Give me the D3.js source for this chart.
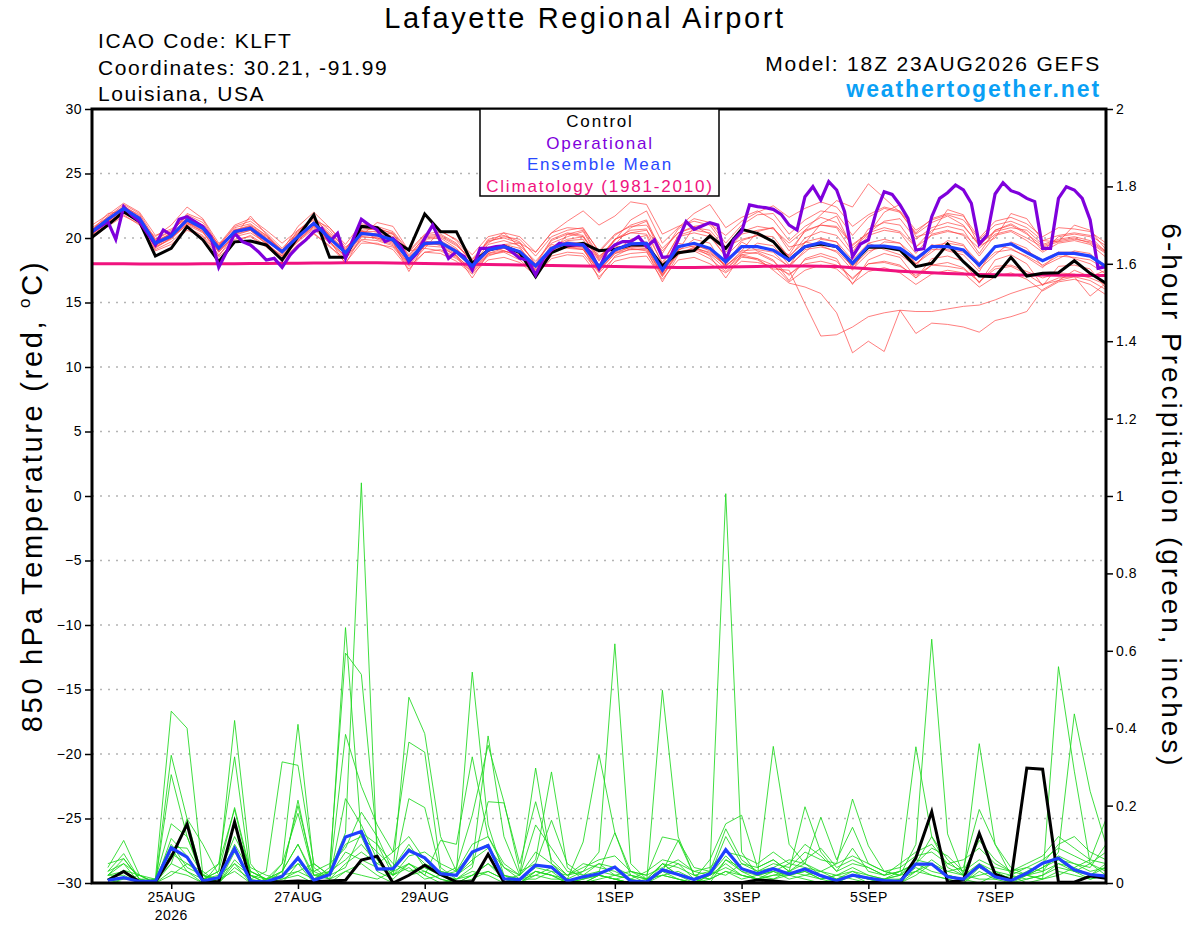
<!DOCTYPE html>
<html><head><meta charset="utf-8">
<script src="https://cdn.jsdelivr.net/npm/d3@7"></script>
<style>
body{margin:0;background:#fff}
svg{display:block}
text{font-family:"Liberation Sans",Arial,Helvetica,sans-serif}
</style>
</head><body>
<svg id="c" width="1200" height="927"></svg>
<script>
// ---------------- DATA ----------------
const runStart = "2026-08-23T18:00:00Z";
const tickDates = ["2026-08-25","2026-08-27","2026-08-29","2026-09-01","2026-09-03","2026-09-05","2026-09-07"];
const tickLabels = ["25AUG","27AUG","29AUG","1SEP","3SEP","5SEP","7SEP"];
const tempTicks = [-30,-25,-20,-15,-10,-5,0,5,10,15,20,25,30];
const precipTicks = [0,0.2,0.4,0.6,0.8,1,1.2,1.4,1.6,1.8,2];

// 850 hPa temperature, 6-hourly from 18Z 23AUG
const controlTemp = [20.05,21.0,22.04,21.27,18.6,19.2,20.88,19.85,18.17,19.7,
 19.77,19.46,18.3,20.1,21.8,18.5,18.5,20.9,20.8,19.85,
 19.07,21.86,20.49,20.49,18.04,19.07,19.38,18.86,17.0,18.86,
 19.38,19.59,19.02,19.12,19.46,19.46,17.83,18.86,19.02,20.15,
 19.2,20.67,20.36,19.72,18.29,19.33,19.53,19.33,18.04,19.28,
 19.28,19.07,17.78,18.04,19.53,18.16,17.05,17.0,18.5,17.05,
 17.26,17.31,18.24,17.26,16.49];
const meanTemp = [20.49,21.45,22.3,21.52,19.59,20.15,21.4,20.75,19.2,20.49,
 20.75,19.85,18.94,20.1,21.14,19.97,18.86,20.36,20.23,19.85,
 18.29,19.59,19.64,18.94,17.83,19.07,19.33,18.94,17.83,19.2,
 19.59,19.46,17.78,19.07,19.54,19.59,17.52,19.33,19.59,19.2,
 18.16,19.33,19.33,19.05,18.29,19.33,19.64,19.33,18.04,19.38,
 19.38,19.2,18.35,19.33,19.33,19.07,17.9,19.33,19.54,18.86,
 18.24,18.81,18.81,18.6,17.78];
const climoTemp = [18.0,18.0,18.0,17.99,17.99,17.99,17.99,18.0,18.0,18.01,
 18.02,18.03,18.04,18.05,18.06,18.07,18.08,18.08,18.08,18.07,
 18.05,18.03,18.01,17.99,17.97,17.95,17.93,17.91,17.89,17.87,
 17.85,17.83,17.81,17.79,17.77,17.75,17.73,17.72,17.72,17.74,
 17.76,17.78,17.8,17.81,17.82,17.82,17.81,17.79,17.7,17.62,
 17.52,17.43,17.36,17.3,17.25,17.2,17.17,17.15,17.14,17.13,
 17.13,17.12,17.11,17.1,17.1];
// operational run, 3-hourly
const operTemp = [20.49,20.88,21.27,19.9,22.43,21.78,21.27,20.36,19.46,20.62,
 20.23,21.45,21.65,21.27,20.88,20.1,17.73,18.94,20.36,19.72,
 19.46,18.94,18.29,18.42,17.73,18.68,19.33,19.85,20.49,20.75,
 19.72,20.36,18.42,19.97,21.45,21.0,20.62,19.72,19.97,19.33,
 18.16,18.81,19.97,21.0,19.72,18.42,18.94,18.55,17.52,19.2,
 19.2,19.33,19.38,18.94,18.42,18.29,17.13,18.42,19.07,19.59,
 19.46,19.46,19.46,18.86,17.65,18.94,19.46,19.72,19.72,20.1,
 19.33,19.85,18.5,18.55,19.85,21.27,20.67,20.93,21.19,21.0,
 18.29,19.85,20.49,22.56,22.43,22.35,22.22,21.83,21.0,20.62,
 23.2,23.98,22.95,24.37,23.72,22.04,18.55,19.53,19.85,22.04,
 23.59,23.38,22.56,21.52,19.07,19.17,21.65,23.07,23.51,24.11,
 23.72,22.69,19.53,20.23,23.41,24.29,23.67,23.46,23.07,22.82,
 19.2,19.2,23.07,23.98,23.72,23.07,21.4,17.65,17.78];
const tempMembers = [
 [20.8,21.6,22.6,21.9,19.9,20.6,21.8,21.2,19.4,20.9,21.3,20.4,19.2,20.5,21.6,20.6,19.1,20.9,20.8,20.3,18.6,20.1,20.2,19.5,18.1,19.8,20.0,19.6,18.0,19.9,20.4,20.2,18.3,19.9,20.6,20.7,17.9,20.2,20.6,20.4,18.9,20.3,20.6,20.8,19.0,20.5,21.0,20.8,18.9,20.7,21.2,21.0,19.3,20.6,20.9,20.6,18.8,20.6,21.1,20.4,19.0,20.1,20.3,20.1,18.9],
 [20.1,21.0,21.8,21.0,19.1,19.7,20.8,20.2,18.7,19.9,20.1,19.3,18.3,19.5,20.4,19.3,18.4,19.8,19.5,19.3,17.8,18.9,18.8,18.2,17.2,18.3,18.5,18.1,17.1,18.4,18.7,18.6,17.0,18.2,18.5,18.6,16.8,18.3,18.5,18.0,17.3,18.2,18.1,17.8,17.2,18.0,18.2,17.9,16.9,18.0,18.1,17.8,17.1,17.9,17.8,17.6,16.6,17.8,17.9,17.4,16.9,17.3,17.2,16.9,16.4],
 [20.6,21.9,22.1,21.2,20.1,21.0,22.4,21.5,19.6,20.2,21.7,20.3,19.0,20.9,22.0,20.8,19.3,20.2,21.2,20.9,19.0,19.2,20.6,19.8,18.3,19.6,20.4,19.3,17.5,18.8,20.3,20.6,18.6,19.5,20.8,21.3,18.4,19.0,20.9,20.3,18.5,19.0,20.5,20.8,19.3,19.6,21.1,21.7,19.2,20.3,22.0,22.6,20.1,20.4,22.2,21.8,19.4,20.0,21.9,21.5,19.8,19.7,21.0,20.6,19.1],
 [20.3,21.2,22.5,21.7,19.3,19.9,21.1,20.9,19.0,20.7,20.6,19.5,18.6,19.8,20.8,19.7,18.6,20.6,19.9,19.5,18.0,19.8,19.4,18.6,17.5,19.3,19.0,18.7,17.6,19.5,19.2,19.1,17.4,19.4,19.1,19.2,17.2,19.6,19.3,18.8,17.9,19.7,19.0,18.6,17.8,19.7,19.4,18.9,17.5,19.6,19.1,18.7,17.8,19.5,19.0,18.7,17.4,19.4,19.2,18.5,17.7,18.9,18.4,18.0,17.2],
 [20.4,21.3,22.2,21.6,19.8,20.3,21.2,20.6,19.3,20.6,20.9,20.1,19.1,20.3,21.2,20.3,19.0,20.5,20.5,20.3,18.7,20.0,20.1,19.4,18.4,19.7,20.1,19.9,18.6,20.1,20.6,20.8,18.9,20.2,21.0,21.4,18.8,20.7,21.5,21.2,19.6,21.0,21.8,21.9,20.3,21.4,22.1,21.9,20.2,21.6,22.3,22.0,20.4,21.5,21.9,21.7,20.0,21.3,21.6,21.1,20.1,20.8,20.7,20.5,19.6],
 [20.2,21.1,21.9,21.3,19.4,20.1,21.6,21.0,18.9,20.3,20.9,20.0,18.7,20.0,21.3,20.2,18.7,20.2,20.4,20.0,18.1,19.4,19.8,19.1,17.6,18.9,19.5,19.2,17.9,19.0,19.8,19.9,17.7,18.9,19.9,20.2,17.3,19.0,19.9,19.6,17.6,18.8,19.6,19.4,17.9,18.9,19.9,19.7,17.6,18.8,19.7,19.6,18.0,18.9,19.8,19.5,17.6,18.7,19.7,19.2,17.8,18.4,19.0,18.8,17.5],
 [20.7,21.5,22.0,21.4,19.5,20.0,21.0,20.4,19.0,20.1,20.4,19.6,18.5,19.7,20.7,19.6,18.5,19.9,19.8,19.4,17.9,19.2,19.0,18.4,17.4,18.7,18.9,18.3,17.2,18.6,18.9,18.8,17.3,18.5,18.8,18.9,17.0,18.8,19.0,18.4,17.4,18.5,18.4,17.9,16.6,17.5,17.9,17.6,16.5,17.4,17.7,17.3,16.4,17.2,17.5,17.3,16.2,17.0,17.3,16.8,15.9,16.6,16.8,16.4,15.6],
 [21.0,21.8,22.7,22.0,20.2,20.7,21.5,21.0,19.5,21.0,21.5,20.6,19.6,20.6,21.4,20.8,19.5,21.1,20.9,20.5,19.0,20.3,20.5,19.9,18.7,20.1,20.4,20.1,18.9,20.4,20.8,20.7,19.0,20.3,20.9,21.0,19.2,20.4,20.8,20.6,19.2,20.5,20.9,20.7,19.6,20.6,21.0,20.9,19.5,20.4,20.8,20.5,19.3,20.2,20.5,20.3,19.2,20.3,20.6,20.0,19.3,19.7,19.9,19.7,18.9],
 [20.0,20.9,21.7,21.1,19.0,19.5,20.6,20.1,18.5,19.7,20.2,19.4,18.2,19.4,20.3,19.4,18.1,19.6,19.6,19.1,17.6,18.9,19.1,18.5,17.3,18.6,19.0,18.6,17.4,18.9,19.3,19.2,17.5,18.8,19.3,19.3,17.1,18.9,19.2,18.9,17.8,19.0,19.1,18.9,17.7,19.1,19.3,19.0,17.8,19.0,19.3,19.2,18.0,19.1,19.1,18.9,17.8,18.9,19.1,18.6,17.9,18.6,18.5,18.3,17.6],
 [20.5,21.7,22.4,21.8,19.7,20.4,21.9,21.4,19.4,20.8,21.1,20.2,18.8,20.6,21.6,20.2,18.8,20.8,20.6,20.1,18.5,19.9,20.0,19.2,17.9,19.5,19.8,19.4,18.2,19.6,20.1,20.5,18.4,19.8,21.4,22.1,19.6,20.8,21.9,22.6,20.8,21.6,22.1,21.4,19.8,20.9,21.6,21.2,19.4,20.4,21.3,21.5,19.9,20.8,21.2,20.9,19.5,20.5,20.8,20.6,19.5,19.9,20.1,19.8,19.0],
 [20.4,21.2,22.1,21.3,19.2,20.0,21.2,20.5,18.6,20.3,20.6,19.7,18.2,19.9,20.9,19.8,18.0,20.1,20.0,19.7,17.4,19.5,19.5,18.7,16.9,18.8,19.2,18.8,16.9,18.9,19.4,19.3,16.8,18.6,19.2,19.0,16.6,18.7,19.3,18.6,16.9,18.7,18.9,18.3,16.7,18.4,18.8,18.4,16.4,18.3,18.8,18.5,16.9,18.4,18.6,18.2,16.5,18.3,18.7,18.0,16.3,17.8,17.9,17.6,16.1],
 [20.6,21.3,22.4,21.6,19.9,20.5,21.7,20.9,19.3,20.6,21.0,20.2,19.0,20.4,21.5,20.4,19.2,20.6,20.7,20.4,18.9,20.2,20.3,19.6,18.1,19.9,20.2,19.7,17.9,19.8,20.3,20.1,18.2,19.9,20.4,20.3,18.1,20.1,20.4,20.1,18.6,19.8,20.2,20.1,18.5,20.0,20.5,20.2,18.7,20.2,20.6,20.4,18.8,20.3,20.6,20.2,18.6,20.2,20.5,19.8,18.9,19.6,19.8,19.5,18.5],
 [20.3,21.4,22.2,21.4,19.4,20.2,21.3,20.7,19.1,20.4,20.7,19.8,18.9,20.0,21.0,19.9,18.8,20.3,20.1,19.8,18.2,19.6,19.7,18.9,17.7,19.0,19.2,18.9,17.7,19.1,19.4,19.3,17.6,18.9,19.3,19.4,17.3,19.1,19.4,19.1,17.8,18.9,18.8,18.2,17.1,18.3,18.6,18.2,16.8,18.0,18.2,17.9,16.9,17.9,18.1,17.7,16.6,17.6,17.8,17.2,16.4,16.9,17.0,16.7,16.0],
 [20.6,21.5,22.3,21.5,19.6,20.3,21.5,20.8,19.2,20.5,20.8,19.9,18.9,20.1,21.1,20.0,18.9,20.4,20.2,19.9,18.3,19.6,19.6,18.9,17.8,19.1,19.3,18.9,17.8,19.3,19.9,20.1,18.5,19.9,20.4,20.6,19.0,20.4,20.9,21.1,20.2,21.3,22.0,22.5,21.6,22.3,22.8,22.4,20.9,21.8,22.4,22.1,20.6,21.4,21.8,21.4,19.9,21.0,21.3,20.8,19.8,20.2,20.4,20.2,19.4],
 [20.5,21.3,22.2,21.4,19.6,20.1,21.3,20.7,19.1,20.4,20.7,19.8,18.8,20.0,21.0,19.9,18.8,20.3,20.2,19.8,18.2,19.5,19.6,18.8,17.7,19.0,19.5,19.6,18.9,20.4,21.3,22.1,21.0,21.7,22.8,22.6,20.3,20.9,21.3,21.0,19.3,19.9,20.2,19.8,18.6,19.7,20.0,19.7,18.3,19.6,19.9,19.6,18.5,19.4,19.6,19.4,18.1,19.3,19.5,19.0,18.3,18.9,18.9,18.6,17.9],
 [20.4,21.4,22.3,21.6,19.7,20.2,21.4,20.8,19.2,20.5,20.8,19.9,18.9,20.1,21.1,20.0,18.9,20.4,20.2,19.9,18.3,19.6,19.6,18.9,17.8,19.1,19.3,18.9,17.8,19.2,19.6,19.5,17.8,19.1,19.5,19.6,17.5,19.3,19.6,19.2,18.2,19.3,19.3,19.1,18.7,20.6,21.8,22.9,22.4,24.2,23.1,22.0,20.3,21.2,21.7,21.0,19.4,20.6,21.0,20.3,19.4,19.8,20.0,19.6,18.8],
 [20.3,21.2,22.0,21.2,19.3,20.0,21.1,20.5,18.9,20.2,20.6,19.6,18.6,19.8,20.9,19.7,18.6,20.1,20.0,19.6,18.0,19.4,19.3,18.6,17.5,18.8,19.0,18.6,17.5,18.9,19.3,19.1,17.4,18.8,19.1,19.1,17.1,18.9,19.1,18.7,17.6,18.6,18.3,17.6,17.5,14.9,12.4,12.5,13.1,13.9,14.2,14.4,12.6,13.4,13.3,13.1,12.7,13.6,13.9,14.3,16.0,16.7,17.5,17.0,17.5],
 [20.6,21.5,22.4,21.6,19.7,20.3,21.5,20.9,19.3,20.6,20.9,20.0,19.0,20.2,21.2,20.1,19.0,20.5,20.3,20.0,18.4,19.7,19.7,19.0,17.9,19.2,19.4,19.0,17.9,19.3,19.7,19.6,17.9,19.2,19.6,19.7,17.6,19.4,19.5,19.0,17.9,18.7,18.4,17.5,16.5,16.2,15.7,14.2,11.1,12.0,11.2,14.4,14.3,14.3,14.5,14.7,14.8,15.2,15.7,16.1,16.4,16.7,17.0,15.5,16.5]
];

// 6-hour precipitation (inches), first value valid 00Z 24AUG
const controlPrecip = [0.007,0.03,0.003,0.003,0.067,0.152,0.003,0.003,
 0.158,0.003,0.003,0.003,0.005,0.003,0.005,0.007,
 0.059,0.069,0,0.02,0.046,0.022,0.003,0.003,
 0.074,0.002,0.001,0.001,0.001,0.001,0.001,0.001,
 0.001,0.001,0.001,0.001,0.001,0.001,0.001,0.001,
 0.001,0.008,0.005,0.001,0.001,0.001,0.001,0.001,
 0.001,0.001,0.001,0.065,0.184,0.002,0.008,0.128,
 0.023,0.008,0.297,0.294,0.002,0.002,0.018,0.012];
const meanPrecip = [0.007,0.014,0.004,0.004,0.091,0.067,0.005,0.014,
 0.089,0.005,0.003,0.017,0.065,0.007,0.022,0.119,
 0.133,0.036,0.037,0.084,0.065,0.024,0.02,0.08,
 0.097,0.011,0.009,0.046,0.041,0.005,0.016,0.024,
 0.041,0.005,0.003,0.034,0.022,0.009,0.024,0.086,
 0.037,0.024,0.037,0.023,0.036,0.019,0.006,0.02,
 0.013,0.006,0.004,0.049,0.049,0.016,0.01,0.045,
 0.016,0.006,0.025,0.051,0.064,0.034,0.022,0.018];
const precipMembers = [
 [0.02,0.05,0,0.01,0.444,0.40,0.02,0, 0.08,0.01,0,0.02,0.05,0,0.03,0.13, 1.034,0.06,0.02,0.05,0.03,0.01,0,0.02, 0.05,0.01,0,0.03,0.02,0,0.01,0.02, 0.01,0,0,0.03,0.01,0,0.02,0.05, 0.02,0.01,0.03,0.02,0.01,0,0.01,0.02, 0,0,0.01,0.04,0.02,0.01,0,0.03, 0.01,0,0.02,0.01,0.03,0.02,0.01,0.02],
 [0.01,0.03,0,0,0.33,0.166,0.01,0.02, 0.05,0,0.01,0.03,0.10,0.01,0.02,0.66, 0.12,0.03,0.01,0.05,0.02,0,0.01,0.03, 0.02,0,0.01,0.01,0.03,0,0,0.02, 0.01,0,0,0.02,0.01,0,0.03,1.006, 0.08,0.02,0.01,0.03,0.05,0.02,0.01,0.03, 0.01,0,0,0.02,0.05,0.02,0.01,0, 0.02,0,0.01,0.02,0.05,0.03,0.01,0.02],
 [0.03,0.076,0.01,0,0.28,0.12,0.01,0.03, 0.42,0.05,0,0.02,0.03,0.01,0.04,0.594, 0.539,0.10,0.02,0.04,0.01,0.02,0,0.01, 0.03,0.01,0,0.02,0.01,0.01,0.03,0.08, 0.618,0.05,0.01,0.02,0.01,0,0.02,0.04, 0.02,0.01,0.01,0.02,0.03,0.01,0,0.02, 0.01,0.01,0.02,0.10,0.63,0.127,0.02,0.01, 0.01,0.02,0,0.01,0.02,0.04,0.02,0.05],
 [0.04,0.11,0.02,0,0.09,0.03,0,0.05, 0.326,0.02,0,0.05,0.41,0.04,0.01,0.03, 0.02,0.01,0.03,0.48,0.386,0.12,0.03,0.545, 0.15,0.02,0,0.03,0.02,0,0.01,0.03, 0.02,0.01,0,0.05,0.02,0,0.01,0.03, 0.01,0.02,0.03,0.01,0.02,0.03,0.01,0.02, 0.01,0,0,0.03,0.02,0.01,0,0.04, 0.02,0.01,0.02,0.01,0.559,0.289,0.05,0.02],
 [0.02,0.063,0.01,0.01,0.153,0.12,0.02,0, 0.04,0.01,0.03,0.313,0.304,0.05,0.02,0.384, 0.25,0.15,0.08,0.364,0.338,0.04,0.01,0.02, 0.03,0.01,0.02,0.297,0.05,0.01,0,0.02, 0.01,0.02,0,0.498,0.119,0.02,0.01,0.03, 0.02,0.01,0.02,0.03,0.02,0.01,0.02,0.01, 0,0.01,0.02,0.03,0.05,0.02,0.01,0.02, 0.03,0.01,0.02,0.03,0.08,0.437,0.237,0.10],
 [0.01,0.033,0.02,0,0.115,0.07,0.01,0.03, 0.195,0.03,0.01,0.02,0.214,0.02,0.01,0.218, 0.15,0.06,0.02,0.218,0.195,0.03,0.02,0.05, 0.38,0.12,0.02,0.06,0.287,0.04,0.01,0.02, 0.01,0,0.01,0.02,0.03,0.01,0.02,0.07, 0.03,0.02,0.353,0.10,0.05,0.03,0.02,0.04, 0.02,0.01,0.03,0.05,0.12,0.06,0.02,0.36, 0.10,0.02,0.01,0.02,0.04,0.03,0.05,0.03],
 [0.02,0.02,0,0.01,0.093,0.09,0.02,0.05, 0.19,0.02,0,0.03,0.20,0.03,0.05,0.09, 0.183,0.12,0.03,0.05,0.02,0.11,0.10,0.326, 0.12,0.04,0.01,0.03,0.02,0.01,0.106,0.332, 0.13,0.02,0.01,0.03,0.11,0.02,0.01,0.06, 0.04,0.02,0.03,0.05,0.04,0.03,0.05,0.217, 0.096,0.03,0.02,0.05,0.03,0.02,0.01,0.05, 0.02,0.01,0.03,0.05,0.10,0.12,0.08,0.06],
 [0.01,0.01,0.01,0,0.076,0.05,0.02,0.01, 0.153,0.03,0.01,0.05,0.18,0.02,0.03,0.06, 0.10,0.05,0.08,0.12,0.06,0.02,0.04,0.175, 0.356,0.21,0.03,0.05,0.162,0.05,0.02,0.03, 0.13,0.03,0.01,0.05,0.02,0.01,0.06,0.153, 0.175,0.04,0.06,0.03,0.197,0.08,0.03,0.05, 0.04,0.02,0.03,0.352,0.12,0.04,0.02,0.05, 0.03,0.02,0.04,0.03,0.05,0.04,0.06,0.165],
 [0.03,0.05,0.02,0.01,0.05,0.166,0.10,0.02, 0.12,0.04,0.02,0.01,0.03,0.05,0.02,0.04, 0.13,0.10,0.05,0.03,0.04,0.02,0.01,0.04, 0.21,0.207,0.05,0.21,0.06,0.02,0.03,0.05, 0.02,0.03,0.02,0.119,0.11,0.04,0.03,0.02, 0.05,0.03,0.04,0.06,0.05,0.17,0.06,0.144, 0.05,0.03,0.02,0.06,0.05,0.03,0.04,0.19, 0.10,0.04,0.02,0.05,0.06,0.03,0.02,0.04],
 [0.05,0.063,0.01,0,0.05,0.03,0.01,0, 0.06,0.02,0.01,0,0.05,0.03,0.01,0.05, 0.08,0.05,0.03,0.09,0.05,0.03,0.02,0.06, 0.09,0.04,0.02,0.15,0.09,0.03,0.02,0.05, 0.04,0.02,0.01,0.05,0.04,0.02,0.03,0.14, 0.06,0.03,0.05,0.04,0.08,0.06,0.05,0.07, 0.05,0.03,0.04,0.07,0.08,0.05,0.06,0.09, 0.05,0.03,0.04,0.06,0.09,0.07,0.05,0.08],
 [0.01,0,0,0,0.03,0.02,0,0.01, 0.03,0,0,0.01,0.02,0,0,0.03, 0.05,0.02,0,0.02,0.03,0.01,0,0.02, 0.05,0.02,0.01,0.02,0.04,0.01,0,0.01, 0.02,0.01,0,0.03,0.05,0.01,0,0.06, 0.03,0.01,0.02,0.02,0.03,0.01,0.02,0.03, 0.02,0.01,0.01,0.03,0.06,0.03,0.02,0.04, 0.02,0.01,0.02,0.04,0.06,0.05,0.03,0.04],
 [0.02,0.03,0,0.01,0.10,0.04,0.02,0.01, 0.10,0.03,0.01,0.03,0.10,0.02,0.02,0.08, 0.06,0.04,0.02,0.07,0.08,0.05,0.03,0.10, 0.12,0.05,0.02,0.08,0.05,0.02,0.04,0.06, 0.07,0.03,0.02,0.04,0.06,0.03,0.04,0.08, 0.07,0.05,0.08,0.05,0.10,0.07,0.03,0.09, 0.03,0.02,0.03,0.05,0.09,0.07,0.03,0.06, 0.04,0.03,0.05,0.07,0.12,0.09,0.06,0.05],
 [0,0.01,0.02,0,0.02,0.05,0.03,0, 0.05,0.02,0,0.02,0.06,0.01,0.03,0.10, 0.12,0.08,0.04,0.10,0.04,0.02,0.03,0.08, 0.10,0.02,0.01,0.04,0.03,0.02,0.05,0.04, 0.03,0.01,0.03,0.06,0.05,0.03,0.02,0.12, 0.05,0.04,0.06,0.03,0.06,0.09,0.04,0.06, 0.04,0.02,0.05,0.08,0.10,0.05,0.03,0.11, 0.06,0.03,0.02,0.04,0.07,0.05,0.04,0.10]
];

// ---------------- DRAWING ----------------
const svg = d3.select("#c");
const M = {l:92, r:1106, t:109, b:883};
const t0 = new Date(runStart);
const tEnd = d3.utcHour.offset(t0, 6*(controlTemp.length-1));
const x = d3.scaleUtc().domain([t0, tEnd]).range([M.l, M.r]);
const yT = d3.scaleLinear().domain([-30,30]).range([M.b, M.t]);
const yP = d3.scaleLinear().domain([0,2]).range([M.b, M.t]);

svg.append("rect").attr("width",1200).attr("height",927).attr("fill","#fff");

svg.append("defs").append("clipPath").attr("id","plotclip")
  .append("rect").attr("x",M.l).attr("y",M.t).attr("width",M.r-M.l).attr("height",M.b-M.t);

// gridlines
svg.append("g").selectAll("line").data(tempTicks.filter(v=>v>-30 && v<30)).join("line")
  .attr("x1",M.l).attr("x2",M.r).attr("y1",d=>yT(d)).attr("y2",d=>yT(d))
  .attr("stroke","#b4b4b4").attr("stroke-width",1.5).attr("stroke-dasharray","2,6");

const line6 = d3.line().x((d,i)=>x(d3.utcHour.offset(t0,i*6))).y(d=>yT(d));
const line3 = d3.line().x((d,i)=>x(d3.utcHour.offset(t0,i*3))).y(d=>yT(d));
const lineP = d3.line().x((d,i)=>x(d3.utcHour.offset(t0,(i+1)*6))).y(d=>yP(d));

const plot = svg.append("g").attr("clip-path","url(#plotclip)");
plot.append("g").selectAll("path").data(tempMembers).join("path")
  .attr("d",line6).attr("fill","none").attr("stroke","#ff4040").attr("stroke-opacity",0.85).attr("stroke-width",0.8);
plot.append("g").selectAll("path").data(precipMembers).join("path")
  .attr("d",lineP).attr("fill","none").attr("stroke","#1ed81e").attr("stroke-width",0.85);
plot.append("path").attr("d",line6(climoTemp)).attr("fill","none").attr("stroke","#f0127e").attr("stroke-width",3);
plot.append("path").attr("d",line6(controlTemp)).attr("fill","none").attr("stroke","#000").attr("stroke-width",3);
plot.append("path").attr("d",line3(operTemp)).attr("fill","none").attr("stroke","#7f00dc").attr("stroke-width",3.2);
plot.append("path").attr("d",line6(meanTemp)).attr("fill","none").attr("stroke","#2040ff").attr("stroke-width",3.2);
plot.append("path").attr("d",lineP(controlPrecip)).attr("fill","none").attr("stroke","#000").attr("stroke-width",3);
plot.append("path").attr("d",lineP(meanPrecip)).attr("fill","none").attr("stroke","#2040ff").attr("stroke-width",3.2);

// axes
function styleAxis(g){
  g.select(".domain").remove();
  g.selectAll(".tick line").attr("stroke","#000").attr("stroke-width",1.5);
  g.selectAll(".tick text").attr("fill","#000").attr("font-size",14).attr("letter-spacing","0.5px")
    .attr("font-family","'Liberation Sans',Arial,sans-serif");
}
svg.append("g").attr("transform",`translate(${M.l},0)`)
  .call(d3.axisLeft(yT).tickValues(tempTicks).tickSize(7).tickPadding(3).tickFormat(d3.format("d")))
  .call(styleAxis);
svg.append("g").attr("transform",`translate(${M.r},0)`)
  .call(d3.axisRight(yP).tickValues(precipTicks).tickSize(7).tickPadding(3).tickFormat(d=>String(+d.toFixed(1))))
  .call(styleAxis);
const xTicks = tickDates.map(d=>new Date(d+"T00:00:00Z"));
svg.append("g").attr("transform",`translate(0,${M.b})`)
  .call(d3.axisBottom(x).tickValues(xTicks).tickSize(6).tickPadding(3).tickFormat((d,i)=>tickLabels[i]))
  .call(styleAxis);
svg.append("text").attr("x",x(xTicks[0])).attr("y",920).attr("text-anchor","middle")
  .attr("font-size",14).attr("letter-spacing","0.5px").text("2026");

// frame
svg.append("rect").attr("x",M.l).attr("y",M.t).attr("width",M.r-M.l).attr("height",M.b-M.t)
  .attr("fill","none").attr("stroke","#000").attr("stroke-width",3);

// legend
const lg = svg.append("g");
lg.append("rect").attr("x",480).attr("y",M.t).attr("width",239).attr("height",87)
  .attr("fill","#fff").attr("stroke","#000").attr("stroke-width",1.5);
const legendItems = [["Control","#000"],["Operational","#8000dc"],["Ensemble Mean","#2848ff"],["Climatology (1981-2010)","#f0127e"]];
lg.selectAll("text").data(legendItems).join("text")
  .attr("x",600).attr("y",(d,i)=>127+i*21.5).attr("text-anchor","middle").attr("font-size",17)
  .attr("letter-spacing","1.8px").attr("fill",d=>d[1]).text(d=>d[0]);

// titles
svg.append("text").attr("x",585).attr("y",28).attr("text-anchor","middle").attr("font-size",29)
  .attr("letter-spacing","2.6px").text("Lafayette Regional Airport");
const info = ["ICAO Code: KLFT","Coordinates: 30.21, -91.99","Louisiana, USA"];
svg.append("g").selectAll("text").data(info).join("text")
  .attr("x",98).attr("y",(d,i)=>48+i*26.5).attr("font-size",21).attr("letter-spacing","1.6px").text(d=>d);
svg.append("text").attr("x",1101).attr("y",71).attr("text-anchor","end").attr("font-size",21)
  .attr("letter-spacing","1.85px").text("Model: 18Z 23AUG2026 GEFS");
svg.append("text").attr("x",1101).attr("y",97).attr("text-anchor","end").attr("font-size",23)
  .attr("font-weight","bold").attr("letter-spacing","1.9px").attr("fill","#0aa0f5").text("weathertogether.net");

// axis titles
const lt = svg.append("text").attr("transform","translate(42,496) rotate(-90)").attr("text-anchor","middle")
  .attr("font-size",29).attr("letter-spacing","2.7px");
lt.append("tspan").text("850 hPa Temperature (red, ");
lt.append("tspan").attr("font-size",17).attr("dy",-12).text("o");
lt.append("tspan").attr("dy",12).text("C)");
svg.append("text").attr("transform","translate(1162,496) rotate(90)").attr("text-anchor","middle").attr("font-size",28)
  .attr("letter-spacing","3px").text("6-hour Precipitation (green, inches)");
</script>
</body></html>
